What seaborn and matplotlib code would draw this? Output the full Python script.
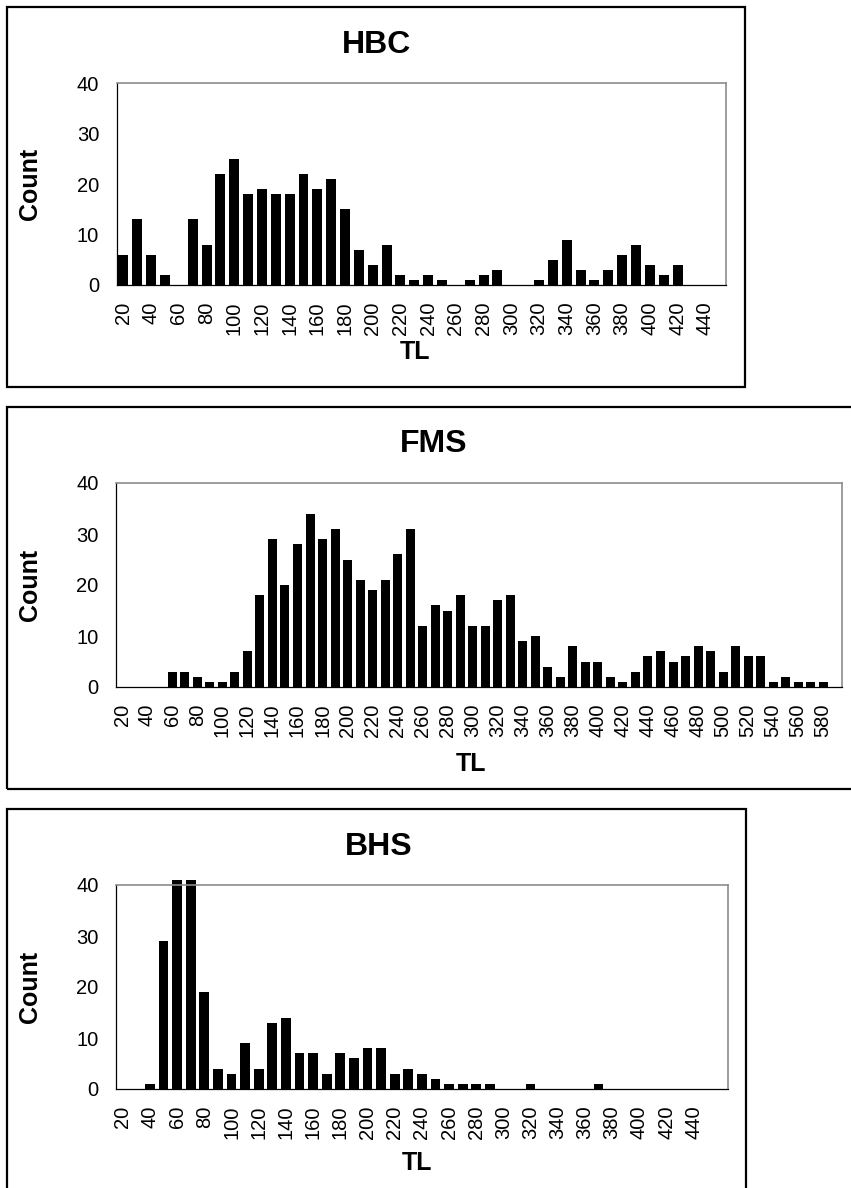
import numpy as np
import pandas as pd
import matplotlib
matplotlib.use("Agg")
import matplotlib.pyplot as plt
from matplotlib.patches import Rectangle
import seaborn as sns

W, H = 851, 1188

# length classes (TL) and counts for each site
hbc_tl = list(range(20, 460, 10))
hbc_count = [6, 13, 6, 2, 0, 13, 8, 22, 25, 18,
             19, 18, 18, 22, 19, 21, 15, 7, 4, 8,
             2, 1, 2, 1, 0, 1, 2, 3, 0, 0,
             1, 5, 9, 3, 1, 3, 6, 8, 4, 2,
             4, 0, 0, 0]

fms_tl = list(range(20, 600, 10))
fms_count = [0, 0, 0, 0, 3, 3, 2, 1, 1, 3,
             7, 18, 29, 20, 28, 34, 29, 31, 25, 21,
             19, 21, 26, 31, 12, 16, 15, 18, 12, 12,
             17, 18, 9, 10, 4, 2, 8, 5, 5, 2,
             1, 3, 6, 7, 5, 6, 8, 7, 3, 8,
             6, 6, 1, 2, 1, 1, 1, 0]

# 60 and 70 run past the top of the axis in the original
bhs_tl = list(range(20, 470, 10))
bhs_count = [0, 0, 1, 29, 41, 41, 19, 4, 3, 9,
             4, 13, 14, 7, 7, 3, 7, 6, 8, 8,
             3, 4, 3, 2, 1, 1, 1, 1, 0, 0,
             1, 0, 0, 0, 0, 1, 0, 0, 0, 0,
             0, 0, 0, 0, 0]

sns.set_style("white")
plt.rcParams['font.family'] = ['Liberation Sans', 'DejaVu Sans']
plt.rcParams['text.color'] = 'black'
plt.rcParams['xtick.color'] = 'black'
plt.rcParams['ytick.color'] = 'black'
plt.rcParams['axes.labelcolor'] = 'black'


def fx(x):
    return x / W


def fy(y):
    return 1 - y / H


def draw_panel(fig, box, plot, tl, counts, title, title_xy, count_xy, tl_xy,
               last_label=None):
    # outer chart border
    x0, y0, x1, y1 = box
    fig.patches.append(Rectangle((fx(x0), fy(y1)), fx(x1 - x0), (y1 - y0) / H,
                                 transform=fig.transFigure, fill=False,
                                 edgecolor='black', linewidth=1.6))

    l, t, r, b = plot
    ax = fig.add_axes([fx(l), fy(b), fx(r - l), (b - t) / H])
    df = pd.DataFrame({'TL': [str(v) for v in tl], 'Count': counts})
    sns.barplot(data=df, x='TL', y='Count', order=df['TL'], color='black',
                width=0.72, saturation=1, edgecolor='none', ax=ax)
    for p in ax.patches:
        p.set_clip_on(False)

    n = len(tl)
    if last_label is None:
        last_label = tl[-1]
    major = [i for i in range(0, n, 2) if tl[i] <= last_label]
    ax.set_xlim(-0.5, n - 0.5)
    ax.set_ylim(0, 40)
    ax.set_yticks([0, 10, 20, 30, 40])
    ax.set_xticks(major)
    ax.set_xticklabels([str(tl[i]) for i in major], rotation=90)
    ax.set_xticks(np.arange(-0.5, n, 1), minor=True)
    ax.tick_params(axis='x', which='major', length=0, pad=12, labelsize=14.5)
    ax.tick_params(axis='x', which='minor', length=4, width=0.8,
                   direction='out', color='black')
    ax.tick_params(axis='y', length=4.5, width=0.8, direction='out',
                   color='black', pad=8, labelsize=14.5)
    ax.set_xlabel('')
    ax.set_ylabel('')

    for side in ['left', 'bottom']:
        ax.spines[side].set_color('black')
        ax.spines[side].set_linewidth(0.9)
    for side in ['top', 'right']:
        ax.spines[side].set_color('#8c8c8c')
        ax.spines[side].set_linewidth(1.2)
    ax.spines['bottom'].set_zorder(5)

    fig.text(fx(title_xy[0]), fy(title_xy[1]), title, ha='center', va='center',
             fontsize=23, fontweight='bold')
    fig.text(fx(count_xy[0]), fy(count_xy[1]), 'Count', ha='center', va='center',
             rotation=90, fontsize=18, fontweight='bold')
    fig.text(fx(tl_xy[0]), fy(tl_xy[1]), 'TL', ha='center', va='center',
             fontsize=18, fontweight='bold')
    return ax


fig = plt.figure(figsize=(W / 100, H / 100), dpi=100)

draw_panel(fig, (7, 7, 745, 387), (116.5, 83.3, 726, 285),
           hbc_tl, hbc_count, 'HBC', (376, 45), (30, 184), (415, 352))
draw_panel(fig, (7, 407, 862, 789), (116, 483, 842, 687),
           fms_tl, fms_count, 'FMS', (434, 444), (30, 585), (471, 764))
draw_panel(fig, (7, 809, 746, 1200), (116, 885, 727.7, 1089),
           bhs_tl, bhs_count, 'BHS', (379, 847), (30, 987), (417, 1163),
           last_label=440)

fig.savefig('out.png', dpi=100)
